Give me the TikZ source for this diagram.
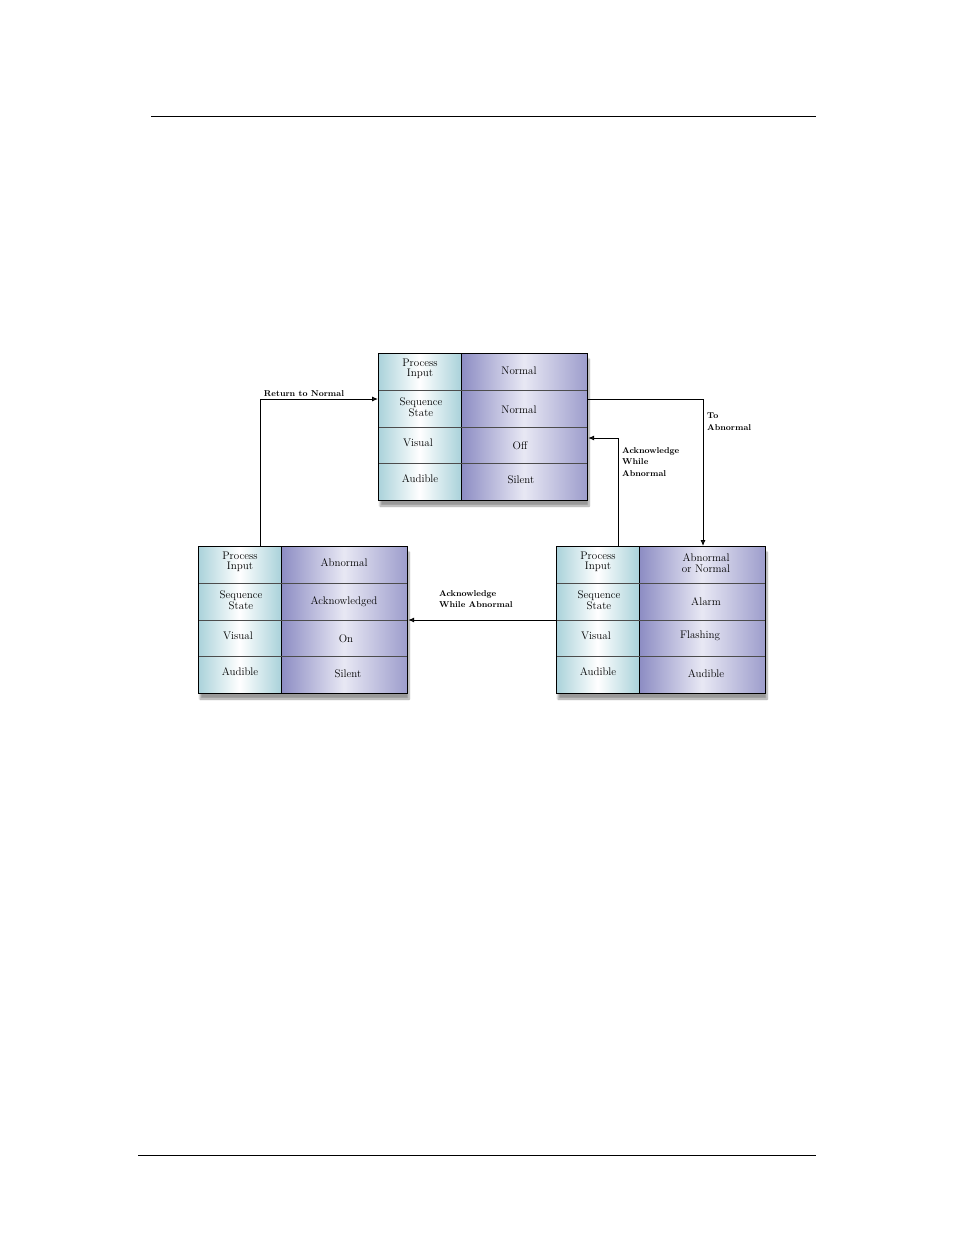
\documentclass[tikz,border=0pt]{standalone}
\usetikzlibrary{arrows.meta,shadows.blur}
\definecolor{cyanE}{RGB}{170,210,218}
\definecolor{lavE}{RGB}{140,140,195}
\definecolor{lavM}{RGB}{232,232,244}
\tikzset{
  lcol/.style={draw=black,line width=0.6pt,left color=cyanE,right color=cyanE,middle color=white},
  rcol/.style={draw=black,line width=0.6pt,left color=lavE,right color=lavE!85,middle color=lavM},
  ctext/.style={font=\fontsize{11}{10.5}\selectfont,align=center,inner sep=0pt},
  albl/.style={font=\fontsize{8.5}{11.5}\selectfont\bfseries,align=left,inner sep=0pt},
  conn/.style={line width=0.9pt,-{Latex[length=6pt,width=5pt]}},
  frame/.style={draw=black,line width=1.2pt}
}
\newcommand\stbox[3]{%
  \fill[black!35,blur shadow={shadow xshift=2pt,shadow yshift=-6pt,shadow blur steps=8}] (#2,#3) rectangle ++(209,147);
  \path[lcol] (#2,#3) rectangle ++(83,147);
  \path[rcol] (#2+83,#3) rectangle ++(126,147);
  \foreach \r in {37,74,110} \draw[black!70,line width=0.5pt] (#2,#3+\r) -- ++(209,0);
  \node[frame,minimum width=209pt,minimum height=147pt,anchor=north west,inner sep=0pt] (#1) at (#2,#3) {};
}
\begin{document}
\begin{tikzpicture}[x=1pt,y=-1pt]
\useasboundingbox (0,0) rectangle (954,1235);
\draw[line width=0.7pt] (151,116) -- (816,116);
\draw[line width=0.7pt] (138,1155) -- (816,1155);
\stbox{top}{378}{353}
\stbox{left}{198}{546}
\stbox{right}{556}{546}
% top texts
\node[ctext] (t1) at (420,369) {Process\\Input};
\node[ctext] (t2) at (519,371) {Normal};
\node[ctext] (t3) at (421,407) {Sequence\\State};
\node[ctext] (t4) at (519,410) {Normal};
\node[ctext] (t5) at (418,443) {Visual};
\node[ctext] (t6) at (520,446) {Off};
\node[ctext] (t7) at (420,479) {Audible};
\node[ctext] (t8) at (521,480) {Silent};
% left texts
\node[ctext] (l1) at (240,562) {Process\\Input};
\node[ctext] (l2) at (344,563) {Abnormal};
\node[ctext] (l3) at (241,600) {Sequence\\State};
\node[ctext] (l4) at (344,602) {Acknowledged};
\node[ctext] (l5) at (238,636) {Visual};
\node[ctext] (l6) at (346,639) {On};
\node[ctext] (l7) at (240,672) {Audible};
\node[ctext] (l8) at (348,674) {Silent};
% right texts
\node[ctext] (r1) at (598,562) {Process\\Input};
\node[ctext] (r2) at (706,563) {Abnormal\\or Normal};
\node[ctext] (r3) at (599,600) {Sequence\\State};
\node[ctext] (r4) at (706,602) {Alarm};
\node[ctext] (r5) at (596,636) {Visual};
\node[ctext] (r6) at (700,636) {Flashing};
\node[ctext] (r7) at (598,672) {Audible};
\node[ctext] (r8) at (706,674) {Audible};
% connectors
\coordinate (c1) at (260,399);
\coordinate (c2) at (703,399);
\coordinate (c3) at (618,438);
\draw[conn] (left.north -| c1) -- (c1) -- (top.west |- c1);
\draw[conn] (top.east |- c2) -- (c2) -- (right.north -| c2);
\draw[conn] (right.north -| c3) -- (c3) -- (top.east |- c3);
\draw[conn] (right.west |- 0,620) -- (left.east |- 0,620);
% labels
\node[albl,anchor=south] (a1) at (304,397) {Return to Normal};
\node[albl,anchor=north west] (a2) at (707,413) {To\\Abnormal};
\node[albl,anchor=north west] (a3) at (622,447) {Acknowledge\\While\\Abnormal};
\node[albl,anchor=north west] (a4) at (439,590) {Acknowledge\\While Abnormal};
\end{tikzpicture}
\end{document}
